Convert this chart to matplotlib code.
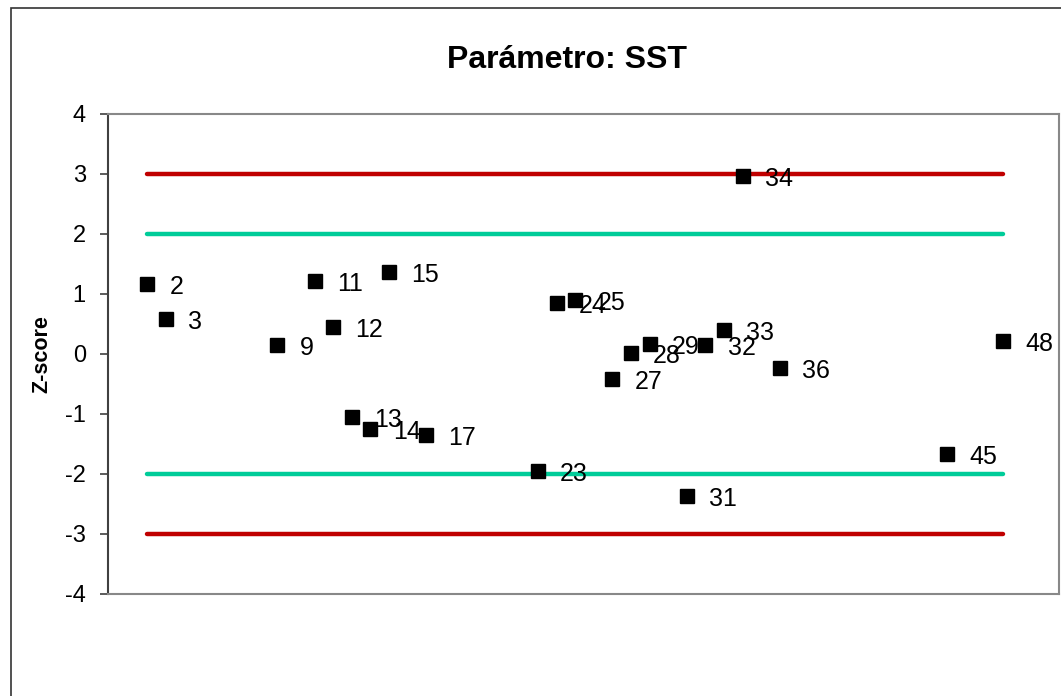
import matplotlib.pyplot as plt
from matplotlib.patches import Rectangle

plt.rcParams['font.family'] = ['Liberation Sans', 'DejaVu Sans']
plt.rcParams['axes.unicode_minus'] = False

# lab number and z-score
labs = [2, 3, 9, 11, 12, 13, 14, 15, 17, 23, 24, 25, 27, 28, 29, 31, 32, 33, 34, 36, 45, 48]
zscores = [1.17, 0.58, 0.15, 1.22, 0.45, -1.05, -1.25, 1.37, -1.35, -1.95, 0.85, 0.90,
           -0.42, 0.02, 0.17, -2.37, 0.15, 0.40, 2.97, -0.23, -1.67, 0.22]

limit_x = [2, 48]
warn_lines = [2, -2]
action_lines = [3, -3]

fig = plt.figure(figsize=(10.61, 6.96), dpi=100)
fig.patches.append(Rectangle((11 / 1061, -0.1), 1.2, 1 - 8 / 696 + 0.1,
                             transform=fig.transFigure, fill=False,
                             edgecolor='#333333', linewidth=1.2))
ax = fig.add_axes([108 / 1061, 1 - 594 / 696, (1059 - 108) / 1061, (594 - 114) / 696])

for v in action_lines:
    ax.plot(limit_x, [v, v], color='#C00000', linewidth=3.2, solid_capstyle='round', zorder=2)
for v in warn_lines:
    ax.plot(limit_x, [v, v], color='#00CC99', linewidth=3.2, solid_capstyle='round', zorder=2)

ax.plot(labs, zscores, linestyle='none', marker='s', markersize=10,
        color='black', zorder=3)
for x, y in zip(labs, zscores):
    ax.annotate(str(x), (x, y), xytext=(16, -2), textcoords='offset points',
                ha='left', va='center', fontsize=18, zorder=4)

ax.set_xlim(-0.1, 51)
ax.set_ylim(-4, 4)
ax.set_yticks(range(-4, 5))
ax.set_xticks([])
ax.tick_params(axis='y', labelsize=17, length=6, width=1.2, color='#404040', pad=10)
for s in ['top', 'right', 'bottom']:
    ax.spines[s].set_color('#888888')
    ax.spines[s].set_linewidth(1.5)
ax.spines['left'].set_color('#404040')
ax.spines['left'].set_linewidth(1.5)

ax.set_ylabel('Z-score', fontsize=15.5, fontweight='bold', labelpad=9)
fig.text(567 / 1061, 1 - 60 / 696, 'Parámetro: SST', ha='center', va='center',
         fontsize=23, fontweight='bold')

fig.savefig('out.png', dpi=100)
